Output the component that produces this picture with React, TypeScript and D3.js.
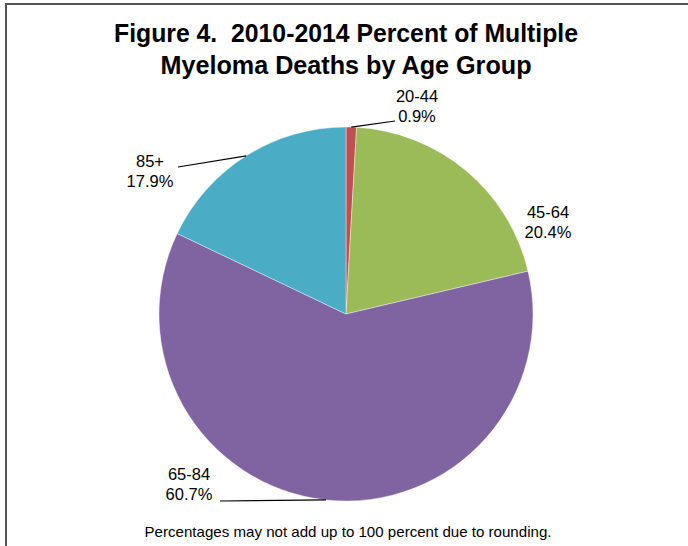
import React from "react";
import * as d3 from "d3";

const categories = ["20-44", "45-64", "65-84", "85+"];
const values = [0.9, 20.4, 60.7, 17.9];
const colors = ["#C0504D", "#9BBB59", "#8064A2", "#4BACC6"];
const titleLines = ["Figure 4.  2010-2014 Percent of Multiple", "Myeloma Deaths by Age Group"];
const footnote = "Percentages may not add up to 100 percent due to rounding.";

// label layout (offsets relative to pie centre) – layout only
const labelLayout = [
  { dx: 71, dy: -212, leader: true, lineEnd: [49, -193] },
  { dx: 202, dy: -96, leader: false, lineEnd: [0, 0] },
  { dx: -157, dy: 166, leader: true, lineEnd: [-126, 187] },
  { dx: -196, dy: -147, leader: true, lineEnd: [-168, -147] },
];

export default function App() {
  const W = 688, H = 546;
  const cx = 346, cy = 314, R = 187;
  const pie = d3.pie<number>().sort(null).value((d) => d);
  const arcs = pie(values);
  const arc = d3.arc<d3.PieArcDatum<number>>().innerRadius(0).outerRadius(R);
  const font = "'Liberation Sans', Arial, Helvetica, sans-serif";
  return (
    <svg width={W} height={H} style={{ position: "absolute", left: 0, top: 0, background: "#fff" }}>
      <line x1={6} y1={4} x2={W} y2={4} stroke="#555" strokeWidth={2} />
      <line x1={6} y1={3} x2={6} y2={H} stroke="#555" strokeWidth={2} />
      <text x={cx} y={42} textAnchor="middle" fontFamily={font} fontWeight="bold" fontSize={25} textLength={464} lengthAdjust="spacingAndGlyphs" style={{ whiteSpace: "pre" }}>{titleLines[0]}</text>
      <text x={cx} y={74} textAnchor="middle" fontFamily={font} fontWeight="bold" fontSize={25} textLength={371} lengthAdjust="spacingAndGlyphs">{titleLines[1]}</text>
      <g transform={`translate(${cx},${cy})`}>
        {arcs.map((a, i) => (
          <path key={i} d={arc(a) || ""} fill={colors[i]} stroke="#ffffff" strokeWidth={0.4} />
        ))}
        {arcs.map((a, i) => {
          const mid = (a.startAngle + a.endAngle) / 2;
          const ex = R * Math.sin(mid), ey = -R * Math.cos(mid);
          const L = labelLayout[i];
          return (
            <g key={"l" + i}>
              {L.leader && (
                <line x1={ex} y1={ey} x2={L.lineEnd[0]} y2={L.lineEnd[1]} stroke="#000" strokeWidth={1.2} />
              )}
              <text x={L.dx} y={L.dy} textAnchor="middle" fontFamily={font} fontSize={16.5} fill="#000">
                <tspan x={L.dx}>{categories[i]}</tspan>
                <tspan x={L.dx} dy={20}>{`${values[i].toFixed(1)}%`}</tspan>
              </text>
            </g>
          );
        })}
      </g>
      <text x={cx + 2} y={537} textAnchor="middle" fontFamily={font} fontSize={14.5} textLength={407} lengthAdjust="spacingAndGlyphs">{footnote}</text>
    </svg>
  );
}
